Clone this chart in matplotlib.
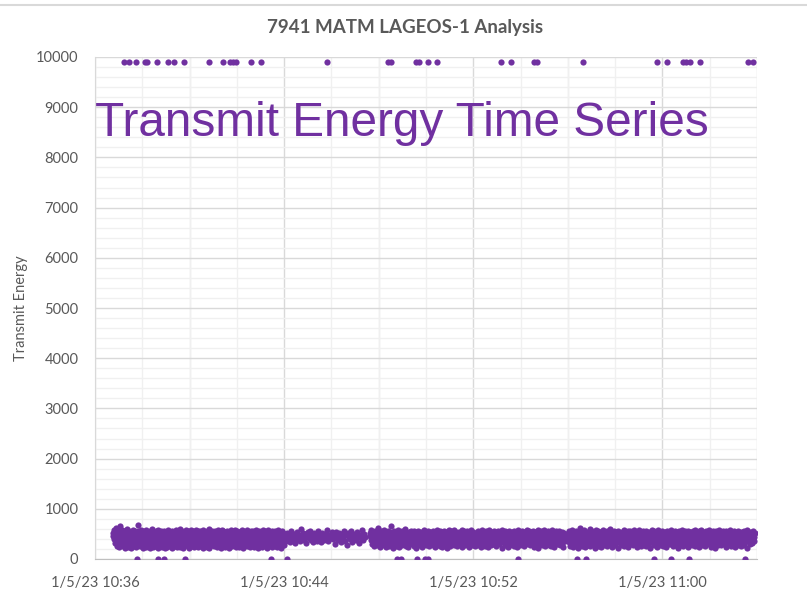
import numpy as np
import pandas as pd
import matplotlib
matplotlib.use("Agg")
import matplotlib.pyplot as plt
import matplotlib.dates as mdates
from matplotlib.ticker import FuncFormatter, MultipleLocator
from matplotlib.lines import Line2D

DIA = "2023-01-05 "
ROXO = "#7030A0"

# trechos continuos da faixa principal (inicio, fim)
trecho_a = ("10:36:46", "10:44:00")
trecho_b = ("10:44:02", "10:47:25")
trecho_c = ("10:47:38", "10:55:53")
trecho_d = ("10:56:00", "11:03:54")

# energia, em dezenas (46 -> 460)
texto_a = """
46 51 39 58 43 32 54 62 41 48 35 52 26 56 44 37 50 23 47 65 34 53 42 29 57 38 49 25 51 44 31 55 40 22 48 36 53 27 45 59
33 50 41 24 56 37 47 30 52 43 21 54 39 46 28 51 35 58 42 26 49 38 55 32 44 23 53 40 47 29 68 56 36 45 25 51 41 33 57 48
27 52 39 44 22 55 35 49 31 53 42 24 58 38 46 30 51 43 26 54 37 48 21 56 40 33 52 45 28 59 36 47 23 54 41 31 50 44 25 55
39 46 29 53 35 22 57 42 48 26 51 38 44 32 55 40 24 49 36 53 43 27 56 34 47 21 52 39 45 30 54 41 23 50 37 58 28 46 35 52
40 25 49 33 55 42 22 51 38 47 44 54 31 48 26 57 36 45 23 52 41 29 56 39 50 34 60 43 24 53 37 46 28 55 42 32 49 21 54 45
36 51 27 47 43 58 30 53 40 25 56 35 48 22 50 44 33 57 39 46 26 52 41 31 55 37 49 23 54 45 28 58 38 47 34 51 42 24 56 40
48 32 55 37 44 26 53 41 29 50 46 22 57 35 52 39 43 27 54 36 49 31 56 42 24 51 38 45 21 59 40 47 33 53 28 48 44 35 55 30
52 43 25 50 37 56 29 46 41 34 54 23 49 38 58 32 45 27 53 40 36 51 44 22 57 39 48 30 55 42 26 50 35 47 24 53 41 33 56 38
45 28 54 36 49 21 52 43 31 57 40 46 25 55 34 48 39 27 51 44 32 58 37 50 23 53 42 29 56 35 47 41 24 54 38 45 30 52 43 26
57 33 49 40 22 55 46 36 51 28 44 53 31 48 39 25 58 42 35 50 27 54 41 47 23 56 37 43 32 52 45 29 55 38 49 24 51 40 34 57
30 48 43 26 53 39 46 21 56 41 35 50 28 54 44 37 52 24 47 40 33 57 36 49 27 55 42 31 53 45 22 50 38 58 34 46 25 54 41 48
36 52 29 47 44 23 56 40 33 51 38 45 26 55 42 31 49 37 54 24 50 43 35 57 28 46 41 32 53 39 48 22 55 44 30 51 36 47 27 45
"""
texto_b = """
44 36 52 40 48 33 55 42 38 50 31 46 54 39 47 35 60 43 51 37 49 32 45 53 41 56 38 47 34 51 43 49 36 55 40 46 33 52 44 38
50 42 57 35 48 41 53 39 46 30 54 43 37 51 45 33 49 40 56 36 47 28 52 44 39 55 34 48 42 50 37 53 45 31 47 41 58 38 49 43
"""
texto_c = """
45 52 38 57 41 30 54 46 25 50 39 56 33 48 42 27 53 37 61 44 31 51 40 23 55 46 35 49 28 54 42 38 58 32 47 24 52 41 45 30
56 39 49 26 53 35 43 66 47 29 51 40 22 55 37 48 33 54 42 26 50 38 57 31 46 44 24 52 36 49 41 28 55 39 47 30 53 43 35 59
25 48 41 52 33 46 23 54 38 50 44 29 56 37 47 32 51 42 26 55 40 34 49 45 22 53 38 47 30 56 41 27 50 43 35 54 39 48 24 52
46 31 57 40 44 28 51 37 49 33 55 42 25 48 39 53 36 46 30 52 43 27 56 34 50 41 23 54 38 47 32 58 45 29 52 40 36 55 26 49
42 35 53 24 47 39 56 31 50 44 28 54 37 46 22 51 41 33 57 38 48 26 55 43 30 52 36 45 40 58 27 49 34 53 42 25 50 38 47 31
54 40 29 51 45 36 57 23 48 42 33 55 38 47 27 52 44 31 56 35 49 41 24 53 39 46 30 58 43 28 50 37 54 45 32 51 26 47 40 35
52 44 27 56 38 48 32 54 41 23 50 46 35 57 29 49 39 53 43 26 55 36 47 31 51 42 24 58 37 45 33 52 40 28 54 46 38 50 30 55
41 34 53 47 25 50 39 56 32 48 43 29 54 36 51 44 22 57 40 46 33 52 38 27 55 42 49 31 53 37 45 24 56 41 35 50 28 47 43 54
33 49 40 26 55 44 37 52 30 48 42 23 57 39 46 34 53 41 28 51 45 36 56 32 50 38 25 54 43 47 29 52 40 35 58 37 44 31 55 42
48 27 53 39 45 32 56 41 24 50 46 35 54 38 29 52 43 47 22 57 36 49 40 31 55 44 27 51 38 46 33 58 42 25 53 39 48 30 50 44
37 55 28 49 43 34 52 40 26 57 45 31 48 39 53 24 50 42 36 55 29 47 44 33 51 38 56 27 46 41 35 54 30 49 43 23 52 39 47 36
"""
texto_d = """
48 40 55 33 46 25 52 42 37 58 29 50 44 23 54 38 47 31 56 41 27 51 45 35 53 22 49 40 62 36 47 30 55 43 26 52 39 48 34 57
41 24 50 46 32 54 38 28 51 44 37 59 25 48 42 33 56 40 47 29 53 35 45 22 52 41 38 58 30 49 44 26 55 37 46 34 51 42 23 54
39 48 31 57 43 27 50 45 36 53 40 25 56 38 47 32 52 44 29 59 41 35 49 24 54 46 38 51 30 55 42 27 48 37 53 33 46 44 22 56
40 49 35 52 28 47 43 54 31 50 39 57 26 45 41 53 34 48 38 51 44 24 55 36 49 42 30 56 37 46 33 52 27 50 43 35 58 40 47 29
53 38 45 23 51 44 36 57 32 48 41 26 54 39 50 34 55 42 28 47 46 37 52 25 56 40 33 49 43 30 54 38 45 22 51 47 35 58 41 31
48 42 27 55 36 50 44 33 53 39 24 57 45 31 49 40 52 28 46 43 35 56 38 51 26 47 41 34 54 37 50 23 55 44 32 48 39 53 29 46
42 36 57 30 51 45 25 53 38 48 33 55 41 27 50 46 37 54 22 49 43 31 56 39 47 28 52 44 35 58 40 26 51 37 48 34 55 42 30 53
45 39 24 56 41 49 32 54 36 47 43 28 52 38 55 31 50 44 26 57 40 46 34 53 29 48 42 37 55 23 51 45 35 58 39 47 27 53 43 33
50 37 44 26 55 40 48 32 53 42 35 57 29 46 41 51 24 54 38 49 43 30 56 36 47 22 52 45 34 55 39 48 28 51 44 37 57 31 46 40
53 27 49 43 35 56 38 46 31 52 41 24 55 44 37 50 29 54 39 47 33 57 42 26 51 45 36 53 30 48 40 55 23 49 44 34 52 38 46 28
56 41 32 50 45 37 54 25 48 42 30 53 39 47 27 55 43 35 51 38 49 22 57 40 46 33 52 44 29 54 36 50 41 31 56 39 47 43 35 52
"""

energia_a = [int(v) * 10 for v in texto_a.split()]
energia_b = [int(v) * 10 for v in texto_b.split()]
energia_c = [int(v) * 10 for v in texto_c.split()]
energia_d = [int(v) * 10 for v in texto_d.split()]

# pontos saturados no topo (9900)
horas_topo = ["10:37:14", "10:37:27", "10:37:44", "10:38:07", "10:38:13", "10:38:37", "10:39:05", "10:39:21",
              "10:39:47", "10:40:50", "10:41:24", "10:41:43", "10:41:49", "10:41:58", "10:42:35", "10:43:01",
              "10:45:48", "10:48:23", "10:48:31", "10:49:35", "10:49:43", "10:50:04", "10:50:27", "10:53:10",
              "10:53:36", "10:54:35", "10:54:41", "10:56:38", "10:59:46", "11:00:11", "11:00:52", "11:01:00",
              "11:01:10", "11:01:35", "11:03:38", "11:03:51"]
valor_topo = 9900

# pontos zerados
horas_zero = ["10:37:47", "10:38:40", "10:38:55", "10:39:49", "10:43:27", "10:44:07", "10:48:46", "10:48:56",
              "10:49:37", "10:49:58", "10:50:05", "10:53:53", "10:56:23", "10:56:46", "10:59:39", "11:00:22",
              "11:01:08", "11:03:30"]


def horario(h):
    return pd.Timestamp(DIA + h)


def pontosTrecho(trecho, valores):
    t = pd.date_range(horario(trecho[0]), horario(trecho[1]), periods=len(valores))
    return list(t), list(valores)


tempos = []
energias = []
for tr, vals in [(trecho_a, energia_a), (trecho_b, energia_b), (trecho_c, energia_c), (trecho_d, energia_d)]:
    t, v = pontosTrecho(tr, vals)
    tempos += t
    energias += v

tempos += [horario(h) for h in horas_topo]
energias += [valor_topo] * len(horas_topo)
tempos += [horario(h) for h in horas_zero]
energias += [0] * len(horas_zero)

fig = plt.figure(figsize=(8.07, 5.91), dpi=100)
ax = fig.add_axes([95 / 807, 1 - 559 / 591, (757 - 95) / 807, (559 - 57) / 591])

ax.scatter(tempos, energias, s=20, color=ROXO, linewidths=0, zorder=3)

ax.set_ylim(0, 10000)
ax.set_xlim(horario("10:36:00"), horario("11:04:00"))

ax.yaxis.set_major_locator(MultipleLocator(1000))
ax.yaxis.set_minor_locator(MultipleLocator(200))
ax.xaxis.set_major_locator(mdates.MinuteLocator(byminute=[36, 44, 52, 0]))
ax.xaxis.set_minor_locator(mdates.MinuteLocator(interval=2))


def fmtData(x, pos):
    d = mdates.num2date(x)
    return f"{d.month}/{d.day}/{d:%y} {d:%H:%M}"


ax.xaxis.set_major_formatter(FuncFormatter(fmtData))

ax.grid(which="major", color="#d9d9d9", lw=1.0, zorder=0)
ax.grid(which="minor", color="#f0f0f0", lw=1.0, zorder=0)
# as de 4 em 4 min um pouco mais fortes que as de 2 min
for h in ["10:40", "10:48", "10:56", "11:04"]:
    ax.axvline(horario(h + ":00"), color="#ececec", lw=1.0, zorder=0)

for lado in ["top", "right"]:
    ax.spines[lado].set_visible(False)
ax.spines["left"].set_color("#d9d9d9")
ax.spines["bottom"].set_color("#bfbfbf")
ax.tick_params(which="both", length=0, colors="#595959", labelsize=10.5)
ax.tick_params(axis="x", pad=12)
ax.tick_params(axis="y", pad=12)
for lab in ax.get_xticklabels() + ax.get_yticklabels():
    lab.set_fontfamily("Lato")

ax.set_ylabel("Transmit Energy", fontsize=10.5, color="#595959", family="Lato", labelpad=6)

fig.text(405 / 807, 1 - 28 / 591, "7941 MATM LAGEOS-1 Analysis", ha="center", va="center",
         fontsize=13.5, fontweight="bold", color="#595959", family="Lato")

fig.text(95 / 807, 1 - 136 / 591, "Transmit Energy Time Series", ha="left", va="baseline",
         fontsize=34.4, color=ROXO, family="Liberation Sans")

# linha fina no topo do slide
fig.add_artist(Line2D([0, 1], [1 - 5 / 591, 1 - 5 / 591], color="#d9d9d9", lw=1.5,
                      transform=fig.transFigure))

fig.savefig("out.png", dpi=100)
